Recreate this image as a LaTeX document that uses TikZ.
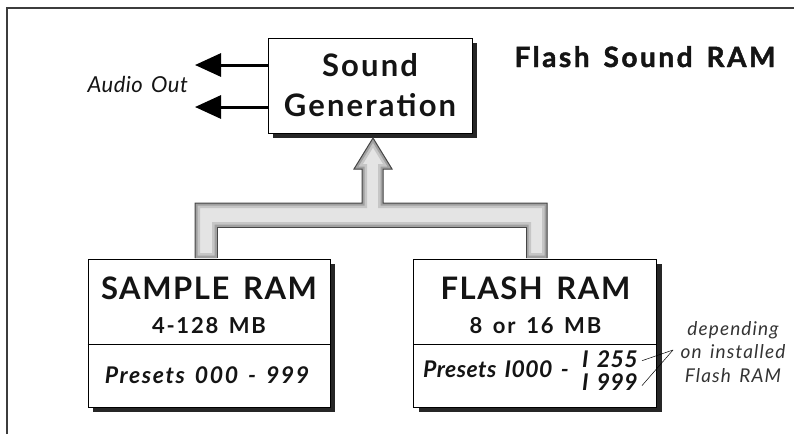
\documentclass[tikz,border=0pt]{standalone}
\usepackage{fontspec}
\setmainfont{Lato}[WordSpace=1.5]
\usetikzlibrary{positioning,arrows.meta,calc,shadows}
\definecolor{ink}{RGB}{20,20,20}
\definecolor{frameln}{RGB}{60,60,60}
\definecolor{busline}{RGB}{70,70,70}
\definecolor{busdark}{RGB}{160,160,160}
\definecolor{busmid}{RGB}{198,198,198}
\definecolor{buslight}{RGB}{228,228,228}
\newcommand{\wide}[1]{\addfontfeature{LetterSpace=#1}}
\tikzset{
  unit/.style={draw=black, fill=white, line width=0.9pt, inner sep=0pt,
    drop shadow={shadow xshift=5pt, shadow yshift=-5pt, fill=black!85, opacity=1}},
  gentxt/.style={font=\fontsize{31}{40}\selectfont\bfseries\wide{7}, text=ink, align=center},
  ramname/.style={font=\fontsize{31}{36}\selectfont\bfseries\wide{5}, text=ink, anchor=base, inner sep=0pt},
  ramsize/.style={font=\fontsize{22}{25}\selectfont\bfseries\wide{8}, text=ink, anchor=base, inner sep=0pt},
  presets/.style={font=\fontsize{23}{26}\selectfont\bfseries\itshape\wide{#1}, text=ink, anchor=base, inner sep=0pt},
  presets/.default=6,
  titletxt/.style={font=\fontsize{28}{32}\selectfont\bfseries\addfontfeature{FakeBold=1.6, LetterSpace=9},
    text=ink, anchor=base, inner sep=0pt},
  notetxt/.style={font=\fontsize{19}{23.5}\selectfont\itshape\wide{6}, text=black!80, align=center, inner sep=0pt},
  outarrow/.style={-{Triangle[length=26pt, width=23pt]}, line width=3pt, draw=black},
  leader/.style={line width=0.5pt, draw=black},
}

\begin{document}
\begin{tikzpicture}[x=1pt, y=-1pt]
  \useasboundingbox (0,0) rectangle (794,434);
  % frame
  \draw[frameln, line width=1.2pt] (7,434) -- (7,8) -- (794,8);

  % boxes
  \node[unit, minimum width=204pt, minimum height=95pt] (sndgen) at (370,85.5) {};
  \node[unit, minimum width=242pt, minimum height=148pt] (sample) at (209,333) {};
  \node[unit, minimum width=243pt, minimum height=148pt, right=83pt of sample] (flash) {};
  \draw[black, line width=0.6pt] ([yshift=-86pt]sample.north west) -- ([yshift=-86pt]sample.north east);
  \draw[black, line width=0.6pt] ([yshift=-86pt]flash.north west) -- ([yshift=-86pt]flash.north east);

  % bus from the RAMs up to sound generation
  \path[fill=buslight] (195,258) -- (195,203) -- (362,203) -- (362,169) -- (354,169)
    -- (373,138) -- (392,169) -- (383,169) -- (383,203) -- (547,203) -- (547,258)
    -- (526,258) -- (526,227) -- (217,227) -- (217,258) -- cycle;
  \begin{scope}
    \clip (195,258) -- (195,203) -- (362,203) -- (362,169) -- (354,169)
      -- (373,138) -- (392,169) -- (383,169) -- (383,203) -- (547,203) -- (547,258)
      -- (526,258) -- (526,227) -- (217,227) -- (217,258) -- cycle;
    \draw[busmid, line width=10pt] (195,258) -- (195,203) -- (362,203) -- (362,169) -- (354,169)
      -- (373,138) -- (392,169) -- (383,169) -- (383,203) -- (547,203) -- (547,258)
      -- (526,258) -- (526,227) -- (217,227) -- (217,258) -- cycle;
    \draw[busdark, line width=5pt] (195,258) -- (195,203) -- (362,203) -- (362,169) -- (354,169)
      -- (373,138) -- (392,169) -- (383,169) -- (383,203) -- (547,203) -- (547,258)
      -- (526,258) -- (526,227) -- (217,227) -- (217,258) -- cycle;
  \end{scope}
  \draw[busline, line width=1pt] (195,258) -- (195,203) -- (362,203) -- (362,169) -- (354,169)
    -- (373,138) -- (392,169) -- (383,169) -- (383,203) -- (547,203) -- (547,258);
  \draw[busline, line width=1pt] (526,258) -- (526,227) -- (217,227) -- (217,258);

  % texts
  \node[gentxt] (gentext) at (sndgen.center) {Sound\\Generation};
  \node[titletxt] (title) at (645,67) {Flash Sound RAM};

  \node[ramname] (smpname) at (sample.north |- 0,299) {SAMPLE RAM};
  \node[ramsize] (smpsize) at (sample.north |- 0,333) {4-128 MB};
  \node[presets=7] (smppre) at ([xshift=-2pt]sample.north |- 0,383) {Presets 000 - 999};

  \node[ramname] (flsname) at (flash.north |- 0,299) {FLASH RAM};
  \node[ramsize] (flssize) at (flash.north |- 0,333) {8 or 16 MB};
  \node[presets=2, anchor=base west] (flspre) at (423,377) {Presets I000 -};
  \node[presets=2, anchor=base east] (r255) at (638,367) {I 255};
  \node[presets=2, anchor=base east] (r999) at (638,390) {I 999};

  \node[notetxt] (note) at (733,352) {depending\\on installed\\Flash RAM};
  \coordinate (fork) at (673,350);
  \draw[leader] ([xshift=4pt,yshift=-2pt]r255.east) -- (fork);
  \draw[leader] ([xshift=4pt,yshift=-4pt]r999.east) -- (fork);

  % audio outputs
  \coordinate (aout1) at (195,65);
  \coordinate (aout2) at (195,107);
  \draw[outarrow] (sndgen.west |- aout1) -- (aout1);
  \draw[outarrow] (sndgen.west |- aout2) -- (aout2);
  \node[font=\fontsize{22}{25}\selectfont\itshape\wide{2}, text=ink, anchor=base east, inner sep=0pt]
    (audio) at (188,92) {Audio Out};
\end{tikzpicture}
\end{document}
